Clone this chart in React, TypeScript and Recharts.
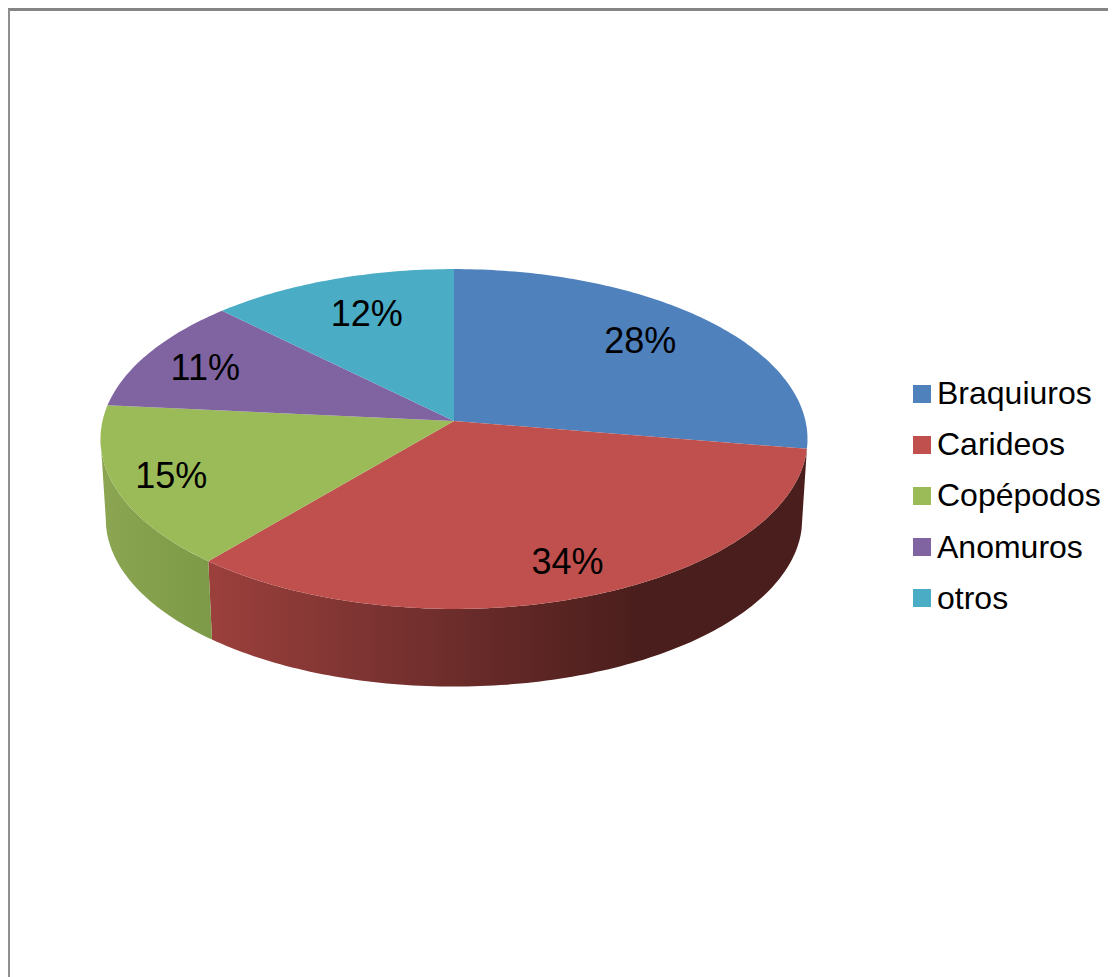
import { PieChart, Pie, Legend } from "recharts";

const categories = ["Braquiuros", "Carideos", "Copépodos", "Anomuros", "otros"];
const shares = [27.6, 33.5, 15.4, 10.95, 12.55];
const percentLabels = ["28%", "34%", "15%", "11%", "12%"];
const colors = ["#4f81bd", "#c0504d", "#9bbb59", "#8064a2", "#4bacc6"];

const data = categories.map((name, i) => ({ name, value: shares[i], fill: colors[i] }));

// how far out each percent label sits, as a fraction of the radius
const labelRadius = [0.73, 0.85, 0.84, 0.81, 0.69];
const labelShift = [-5, -6, -1, 2, -7];

const walls: Record<number, string> = { 1: "url(#wallRed)", 2: "url(#wallGreen)" };

// tilt of the disc: flattening and perspective of the projected circle
const FLATTEN = 0.478;
const PERSPECTIVE = 0.1059;
const DEPTH = 80.5;
const VISIBLE_FROM = 96;
const VISIBLE_TO = 264;

// project a point of the flat pie (angle clockwise from the top) on the tilted disc
function project(cx: number, cy: number, radius: number, deg: number, r = 1) {
  const rad = (deg * Math.PI) / 180;
  const u = r * Math.sin(rad);
  const v = r * Math.cos(rad);
  const w = 1 + PERSPECTIVE * v;
  return { x: cx + (radius * u) / w, y: cy - (radius * FLATTEN * v) / w };
}

function arc(cx: number, cy: number, radius: number, from: number, to: number) {
  const pts = [];
  const steps = Math.max(2, Math.ceil(Math.abs(to - from)));
  for (let i = 0; i <= steps; i++) {
    const p = project(cx, cy, radius, from + ((to - from) * i) / steps);
    pts.push(`${p.x.toFixed(2)} ${p.y.toFixed(2)}`);
  }
  return pts;
}

function DiscSlice(props: any) {
  const { cx, cy, outerRadius, startAngle, endAngle, fill, name } = props;
  const from = 90 - startAngle;
  const to = 90 - endAngle;
  const top = `M${cx} ${cy}L${arc(cx, cy, outerRadius, from, to).join("L")}Z`;
  const wallFill = walls[categories.indexOf(name)];
  const a = Math.max(from, VISIBLE_FROM);
  const b = Math.min(to, VISIBLE_TO);
  let wall = null;
  if (wallFill && b > a) {
    const upper = arc(cx, cy, outerRadius, a, b);
    const lower = arc(cx, cy + DEPTH, outerRadius * 0.985, a, b).reverse();
    wall = <path d={`M${upper.join("L")}L${lower.join("L")}Z`} fill={wallFill} />;
  }
  return (
    <g>
      {wall}
      <path d={top} fill={fill} />
    </g>
  );
}

function PercentLabel(props: any) {
  const { cx, cy, outerRadius, midAngle, index } = props;
  const p = project(cx, cy, outerRadius, 90 - midAngle, labelRadius[index]);
  return (
    <text
      x={p.x}
      y={p.y + labelShift[index]}
      textAnchor="middle"
      dominantBaseline="central"
      fontSize={36}
      fontFamily="Liberation Sans, Arial, sans-serif"
      fill="#000"
    >
      {percentLabels[index]}
    </text>
  );
}

function LegendList({ payload }: any) {
  return (
    <div style={{ fontFamily: "Liberation Sans, Arial, sans-serif", fontSize: 32, color: "#000" }}>
      {(payload || []).map((entry: any) => (
        <div key={entry.value} style={{ display: "flex", alignItems: "center", height: 51.2 }}>
          <span style={{ width: 18, height: 18, background: entry.color, marginRight: 6 }} />
          <span>{entry.value}</span>
        </div>
      ))}
    </div>
  );
}

export default function App() {
  return (
    <div
      style={{
        position: "relative",
        width: 1109,
        height: 969,
        marginLeft: -1,
        borderLeft: "3px solid #8f8f8f",
        borderTop: "3px solid #858585",
        boxSizing: "border-box",
        overflow: "hidden",
      }}
    >
      <PieChart
        width={1106}
        height={966}
        margin={{ top: 0, right: 0, bottom: 0, left: 0 }}
        style={{ position: "absolute", left: 0, top: 0 }}
      >
        <defs>
          <linearGradient id="wallRed" gradientUnits="userSpaceOnUse" x1={198} y1={0} x2={630} y2={0}>
            <stop offset="0%" stopColor="#9c403c" />
            <stop offset="35%" stopColor="#7e3432" />
            <stop offset="100%" stopColor="#4a1e1c" />
          </linearGradient>
          <linearGradient id="wallGreen" gradientUnits="userSpaceOnUse" x1={95} y1={0} x2={200} y2={0}>
            <stop offset="0%" stopColor="#8ba552" />
            <stop offset="100%" stopColor="#7c9a47" />
          </linearGradient>
        </defs>
        <Pie
          data={data}
          dataKey="value"
          nameKey="name"
          cx={444}
          cy={410}
          outerRadius={351.5}
          startAngle={90}
          endAngle={-270}
          stroke="none"
          shape={DiscSlice}
          label={PercentLabel}
          labelLine={false}
          isAnimationActive={false}
        />
        <Legend
          layout="vertical"
          align="right"
          verticalAlign="top"
          itemSorter={null}
          content={<LegendList />}
          wrapperStyle={{ left: 903, top: 357, width: 200 }}
        />
      </PieChart>
    </div>
  );
}
